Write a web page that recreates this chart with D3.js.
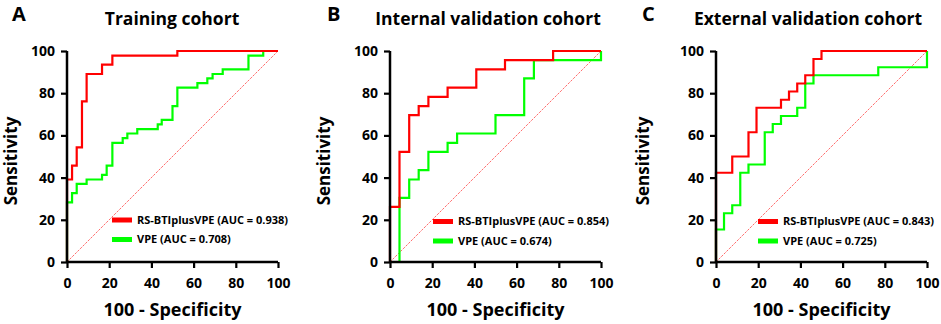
<!DOCTYPE html>
<html>
<head>
<meta charset="utf-8">
<script src="https://cdn.jsdelivr.net/npm/d3@7"></script>
<style>
  html, body { margin: 0; padding: 0; background: #fff; }
  svg { display: block; font-family: "Open Sans", "DejaVu Sans", sans-serif; }
</style>
</head>
<body>
<div id="chart"></div>
<script>
// ROC operating points (100 - specificity, sensitivity)
const panelLetters = ['A', 'B', 'C'];
const panelTitles = ['Training cohort', 'Internal validation cohort', 'External validation cohort'];
const seriesNames = ['RS-BTIplusVPE', 'VPE'];
const aucValues = [
  ['0.938', '0.708'],
  ['0.854', '0.674'],
  ['0.843', '0.725']
];
const tickValues = [0, 20, 40, 60, 80, 100];

// Training cohort
const trainRsX = [0, 2.4, 4.6, 7.1, 9.3, 16.6, 21.5, 52.3, 100];
const trainRsY = [0, 39.1, 45.7, 54.3, 76.1, 89.1, 93.5, 97.8, 100];
const trainVpeX = [0, 2.4, 4.6, 9.3, 16.6, 18.8, 21.5, 26.4, 28.6, 33.3, 43.0, 44.9, 50.0, 52.3, 61.8, 66.5, 69.0, 73.8, 86.0, 93.0, 100];
const trainVpeY = [0, 28.3, 32.6, 37.0, 39.1, 41.3, 45.7, 56.5, 58.7, 60.9, 63.0, 65.2, 67.4, 73.9, 82.6, 84.8, 87.0, 89.1, 91.3, 97.8, 100];

// Internal validation cohort
const internalRsX = [0, 4.5, 9.1, 13.6, 18.2, 27.3, 40.9, 54.5, 77.3, 100];
const internalRsY = [0, 26.1, 52.2, 69.6, 73.9, 78.3, 82.6, 91.3, 95.7, 100];
const internalVpeX = [0, 4.5, 9.1, 13.6, 18.2, 27.3, 31.8, 50.0, 63.6, 68.2, 100, 100];
const internalVpeY = [0, 0, 30.4, 39.1, 43.5, 52.2, 56.5, 60.9, 69.6, 87.0, 95.7, 100];

// External validation cohort
const externalRsX = [0, 7.7, 15.4, 19.2, 30.8, 34.6, 38.5, 42.3, 46.2, 50.0, 100];
const externalRsY = [0, 42.3, 50.0, 61.5, 73.1, 76.9, 80.8, 84.6, 88.5, 96.2, 100];
const externalVpeX = [0, 3.8, 7.7, 11.5, 15.4, 23.1, 26.9, 30.8, 38.5, 42.3, 46.2, 76.9, 100, 100];
const externalVpeY = [0, 15.4, 23.1, 26.9, 42.3, 46.2, 61.5, 65.4, 69.2, 73.1, 84.6, 88.5, 92.3, 100];

const rsCurves = [[trainRsX, trainRsY], [internalRsX, internalRsY], [externalRsX, externalRsY]];
const vpeCurves = [[trainVpeX, trainVpeY], [internalVpeX, internalVpeY], [externalVpeX, externalVpeY]];

const colors = ['#ff0000', '#00ff00'];

// layout per panel
const W = 941, H = 324;
const plotTop = 51, plotBottom = 262;
const panels = [
  { left: 67, right: 278, letterX: 12, titleX: 172, yTitleX: 17, legendX: 112 },
  { left: 390, right: 601, letterX: 327, titleX: 488, yTitleX: 330, legendX: 433 },
  { left: 716, right: 927, letterX: 642, titleX: 808, yTitleX: 649, legendX: 758 }
];

const svg = d3.select('#chart').append('svg')
  .attr('width', W)
  .attr('height', H);

const toPoints = (xs, ys) => xs.map((x, i) => [x, ys[i]]);

panels.forEach((p, i) => {
  const x = d3.scaleLinear().domain([0, 100]).range([p.left, p.right]);
  const y = d3.scaleLinear().domain([0, 100]).range([plotBottom, plotTop]);

  const g = svg.append('g');

  // panel letter + title
  g.append('text')
    .attr('x', p.letterX)
    .attr('y', 21)
    .style('font-size', '20px')
    .style('font-weight', 700)
    .text(panelLetters[i]);

  g.append('text')
    .attr('x', p.titleX)
    .attr('y', 25)
    .attr('text-anchor', 'middle')
    .style('font-size', '17.5px')
    .style('font-weight', 700)
    .text(panelTitles[i]);

  // reference diagonal
  g.append('line')
    .attr('x1', x(0)).attr('y1', y(0))
    .attr('x2', x(100)).attr('y2', y(100))
    .attr('stroke', '#ff5c5c')
    .attr('stroke-width', 0.9)
    .attr('stroke-dasharray', '2.5,1.2');

  const line = d3.line()
    .x(d => x(d[0]))
    .y(d => y(d[1]))
    .curve(d3.curveStepBefore);

  // green first, red on top
  g.append('path')
    .datum(toPoints(vpeCurves[i][0], vpeCurves[i][1]))
    .attr('fill', 'none')
    .attr('stroke', colors[1])
    .attr('stroke-width', 2.2)
    .attr('d', line);

  g.append('path')
    .datum(toPoints(rsCurves[i][0], rsCurves[i][1]))
    .attr('fill', 'none')
    .attr('stroke', colors[0])
    .attr('stroke-width', 2.2)
    .attr('d', line);

  // axes
  const xAxis = g.append('g')
    .attr('transform', `translate(0,${plotBottom})`)
    .call(d3.axisBottom(x).tickValues(tickValues).tickSize(6).tickPadding(10));
  const yAxis = g.append('g')
    .attr('transform', `translate(${p.left},0)`)
    .call(d3.axisLeft(y).tickValues(tickValues).tickSize(6).tickPadding(6));

  [xAxis, yAxis].forEach(a => {
    a.select('.domain').attr('stroke', '#000').attr('stroke-width', 2.5);
    a.selectAll('.tick line').attr('stroke', '#000').attr('stroke-width', 2.2);
    a.selectAll('.tick text')
      .attr('fill', '#000')
      .style('font-family', '"Open Sans", sans-serif')
      .style('font-size', '14px')
      .style('font-weight', 700);
  });
  xAxis.select('.domain').attr('d', `M${p.left},0H${p.right}`);
  yAxis.select('.domain').attr('d', `M0,${plotBottom}V${plotTop}`);

  // axis titles
  g.append('text')
    .attr('x', (p.left + p.right) / 2)
    .attr('y', 316)
    .attr('text-anchor', 'middle')
    .style('font-size', '18px')
    .style('font-weight', 700)
    .text('100 - Specificity');

  g.append('text')
    .attr('transform', `translate(${p.yTitleX},${161}) rotate(-90)`)
    .attr('text-anchor', 'middle')
    .style('font-size', '17px')
    .style('font-weight', 700)
    .text('Sensitivity');

  // legend
  const legendY = [i === 0 ? 220 : 221.5, i === 0 ? 239.5 : 241];
  seriesNames.forEach((name, k) => {
    g.append('line')
      .attr('x1', p.legendX).attr('x2', p.legendX + 20)
      .attr('y1', legendY[k]).attr('y2', legendY[k])
      .attr('stroke', colors[k])
      .attr('stroke-width', 5);
    g.append('text')
      .attr('x', p.legendX + 25)
      .attr('y', legendY[k])
      .attr('dy', '0.35em')
      .style('font-size', '11px')
      .style('font-weight', 700)
      .text(`${name} (AUC = ${aucValues[i][k]})`);
  });
});
</script>
</body>
</html>
